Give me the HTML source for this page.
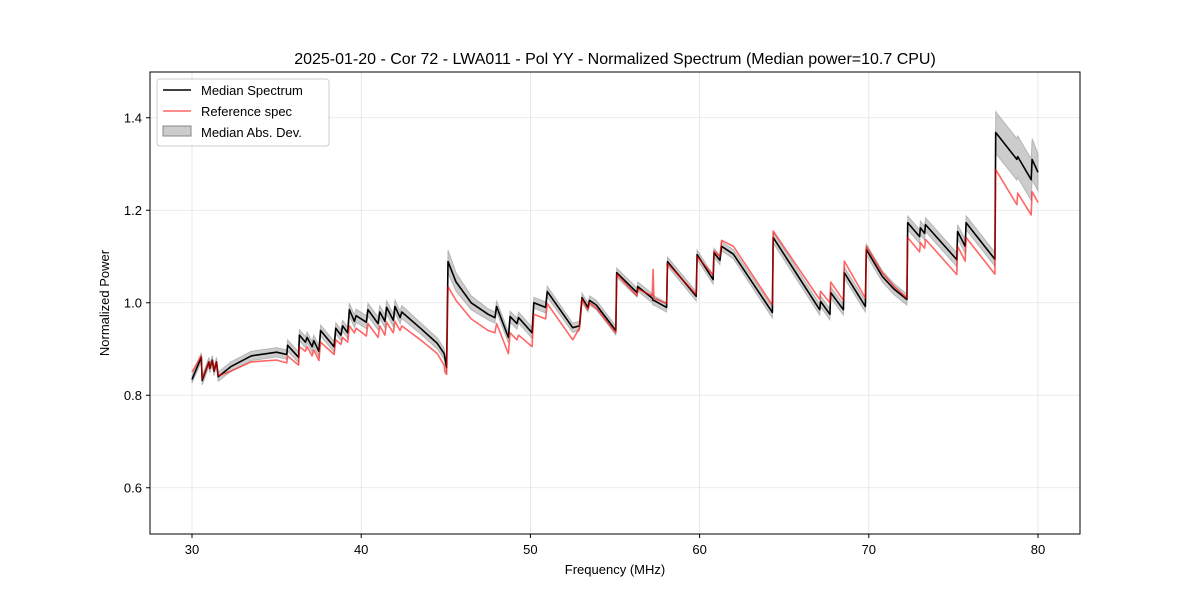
<!DOCTYPE html>
<html><head><meta charset="utf-8"><style>
body{margin:0;background:#fff;}
svg{display:block;font-family:"Liberation Sans","DejaVu Sans",sans-serif;}
</style></head><body>
<svg id="chart" width="1200" height="600">
<text x="615" y="64" text-anchor="middle" font-size="16">2025-01-20 - Cor 72 - LWA011 - Pol YY - Normalized Spectrum (Median power=10.7 CPU)</text>
<g id="grid"></g>
<g id="marks"></g>
<rect x="150" y="72" width="930" height="462" fill="none" stroke="#000" stroke-width="1"/>
<g id="ticks"></g>
<text x="615" y="574" text-anchor="middle" font-size="13">Frequency (MHz)</text>
<text x="109" y="303" text-anchor="middle" font-size="13" transform="rotate(-90 109 303)">Normalized Power</text>
<g>
<rect x="157" y="79" width="172" height="67" rx="3" fill="#fff" fill-opacity="0.8" stroke="#ccc"/>
<line x1="163" y1="90" x2="191" y2="90" stroke="#000" stroke-width="1.5"/>
<text x="201" y="95" font-size="13">Median Spectrum</text>
<line x1="163" y1="111" x2="191" y2="111" stroke="#f00" stroke-opacity="0.6" stroke-width="1.5"/>
<text x="201" y="116" font-size="13">Reference spec</text>
<rect x="163" y="126" width="28" height="10" fill="#999" fill-opacity="0.5" stroke="#888"/>
<text x="201" y="137" font-size="13">Median Abs. Dev.</text>
</g>
</svg>
<script>
const freqs=[30.0,30.55,30.6,31.0,31.05,31.2,31.3,31.45,31.55,32.3,33.5,35.0,35.6,35.65,36.3,36.35,36.7,36.8,37.1,37.2,37.5,37.6,38.4,38.5,38.8,38.9,39.2,39.3,39.6,39.7,40.3,40.4,41.0,41.1,41.4,41.5,41.9,42.0,42.3,42.4,43.5,44.5,44.9,44.95,45.05,45.13,45.6,46.5,47.5,47.9,48.0,48.7,48.8,49.2,49.3,50.1,50.2,50.9,51.0,52.5,52.9,53.05,53.4,53.5,53.9,55.05,55.1,56.3,56.35,57.2,57.25,57.3,58.05,58.1,59.8,59.85,60.8,60.85,61.2,61.3,62.0,64.3,64.35,67.1,67.15,67.7,67.75,68.5,68.55,69.8,69.85,70.8,71.5,72.25,72.3,73.0,73.05,73.3,73.35,75.2,75.25,75.7,75.75,77.45,77.5,78.75,78.8,79.6,79.65,80.0];
const median=[.834,.882,.832,.872,.858,.876,.852,.872,.840,.862,.885,.893,.888,.908,.882,.930,.915,.925,.905,.918,.895,.940,.905,.945,.930,.950,.935,.985,.960,.972,.958,.985,.955,.980,.960,.990,.962,.992,.968,.980,.945,.912,.890,.880,.860,1.089,1.045,1.000,.975,.968,.992,.925,.970,.955,.968,.935,1.000,.990,1.024,.946,.950,1.011,.990,1.005,.995,.940,1.065,1.022,1.035,1.010,1.005,1.005,.990,1.089,1.014,1.104,1.050,1.108,1.092,1.122,1.105,.979,1.141,.985,1.003,.975,1.022,.985,1.065,.992,1.115,1.057,1.029,1.007,1.173,1.143,1.162,1.150,1.169,1.093,1.154,1.122,1.173,1.094,1.368,1.310,1.316,1.266,1.310,1.282];
const refSpec=[.850,.885,.835,.872,.858,.876,.852,.872,.842,.852,.872,.876,.870,.885,.865,.905,.895,.905,.885,.898,.875,.915,.888,.920,.910,.925,.915,.950,.935,.945,.928,.955,.925,.950,.930,.958,.935,.960,.940,.950,.920,.890,.865,.850,.845,1.035,1.005,.965,.940,.935,.955,.890,.935,.920,.930,.905,.975,.965,.998,.920,.945,1.008,.985,1.000,.988,.935,1.062,1.015,1.030,1.015,1.072,1.010,.998,1.085,1.018,1.100,1.060,1.112,1.100,1.135,1.122,.995,1.155,1.007,1.025,1.000,1.045,1.005,1.090,1.010,1.122,1.065,1.035,1.010,1.141,1.110,1.130,1.118,1.137,1.061,1.122,1.090,1.141,1.062,1.288,1.212,1.237,1.190,1.240,1.217];
const madDev=[.008,.01,.01,.01,.01,.01,.01,.01,.01,.01,.01,.01,.01,.012,.012,.012,.012,.012,.012,.012,.012,.012,.012,.012,.012,.012,.012,.014,.014,.014,.014,.014,.014,.014,.014,.014,.014,.014,.014,.014,.012,.012,.012,.012,.012,.025,.02,.015,.012,.012,.012,.012,.012,.012,.012,.012,.012,.012,.012,.01,.01,.01,.01,.01,.01,.01,.01,.01,.01,.01,.01,.01,.01,.01,.01,.01,.01,.01,.01,.01,.01,.012,.012,.012,.012,.012,.012,.012,.012,.012,.012,.012,.012,.012,.015,.015,.015,.015,.015,.015,.015,.015,.015,.015,.045,.045,.045,.045,.045,.04];
const xTicks=[30,40,50,60,70,80];
const yTicks=[0.6,0.8,1.0,1.2,1.4];
const NS='http://www.w3.org/2000/svg';
const X=f=>192+(f-30)*16.92;
const Y=v=>534-(v-0.5)*462.5;
function mk(tag,attrs,parent){const e=document.createElementNS(NS,tag);for(const k in attrs)e.setAttribute(k,attrs[k]);parent.appendChild(e);return e;}
const grid=document.getElementById('grid'),ticks=document.getElementById('ticks'),marks=document.getElementById('marks');
xTicks.forEach(t=>{
 const g=mk('line',{x1:X(t),x2:X(t),y1:72,y2:534,stroke:'#e3e3e3','stroke-width':0.8},grid);
 
 
 const tk=mk('line',{x1:X(t),x2:X(t),y1:534,y2:538,stroke:'#000'},ticks);
 
 
 const tx=mk('text',{x:X(t),y:554,'text-anchor':'middle','font-size':13},ticks);
 tx.textContent=t;
 
 
});
yTicks.forEach(t=>{
 const g=mk('line',{x1:150,x2:1080,y1:Y(t),y2:Y(t),stroke:'#e3e3e3','stroke-width':0.8},grid);
 
 
 const tk=mk('line',{x1:146,x2:150,y1:Y(t),y2:Y(t),stroke:'#000'},ticks);
 
 
 const tx=mk('text',{x:142,y:Y(t)+4.5,'text-anchor':'end','font-size':13},ticks);
 tx.textContent=t.toFixed(1);
 
 
});
let up='',dn='';
freqs.forEach((f,i)=>{up+=(i?'L':'M')+X(f).toFixed(1)+','+Y(median[i]+madDev[i]).toFixed(1);});
for(let i=freqs.length-1;i>=0;i--){dn+='L'+X(freqs[i]).toFixed(1)+','+Y(median[i]-madDev[i]).toFixed(1);}
const band=mk('path',{d:up+dn+'Z',fill:'#999','fill-opacity':0.5,stroke:'#999','stroke-opacity':0.6,'stroke-width':1},marks);


const line=(arr)=>freqs.map((f,i)=>(i?'L':'M')+X(f).toFixed(1)+','+Y(arr[i]).toFixed(1)).join('');
const med=mk('path',{d:line(median),fill:'none',stroke:'#000','stroke-width':1.6,'stroke-linejoin':'round'},marks);


const ref=mk('path',{d:line(refSpec),fill:'none',stroke:'#f00','stroke-opacity':0.6,'stroke-width':1.6,'stroke-linejoin':'round'},marks);


</script>
</body></html>
